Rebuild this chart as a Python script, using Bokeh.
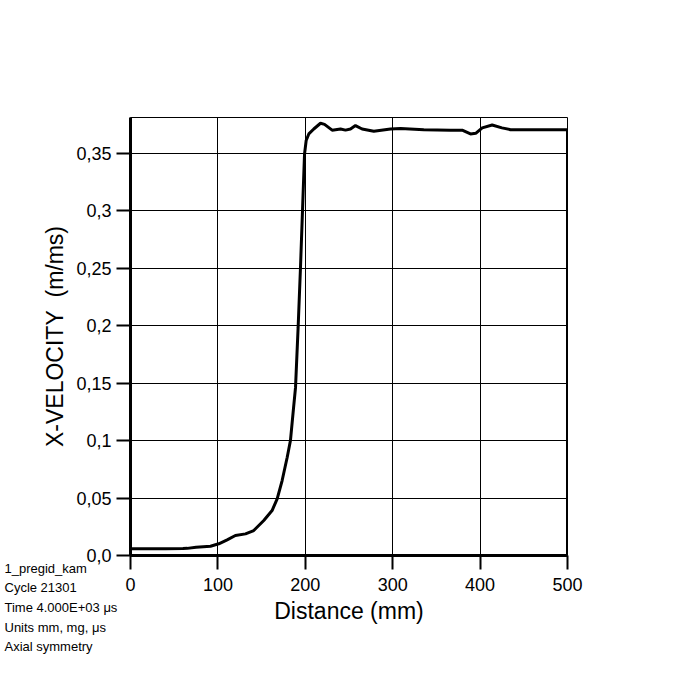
from bokeh.plotting import figure
from bokeh.models import FixedTicker, Range1d, Label
from bokeh.embed import file_html
from bokeh.resources import INLINE

# Data
distance_mm = [0, 20, 40, 60, 65, 75, 91.5, 101, 110.6, 120, 131.6, 141, 152.5, 162,
               167.8, 173.5, 179.3, 183, 186.5, 188.8, 191.8, 194.5, 196.8, 199.1,
               201, 204, 209.7, 217.4, 222, 230.7, 240.3, 246, 251.7, 257.4, 265,
               278.4, 297.5, 309, 335.6, 366, 379.5, 389, 395, 402.4, 413.8, 425,
               434.8, 500, 500]
x_velocity = [0.0058, 0.0058, 0.0058, 0.0060, 0.0062, 0.0072, 0.0081, 0.0102, 0.0136,
              0.0174, 0.0188, 0.0217, 0.0304, 0.0391, 0.0493, 0.0652, 0.0855, 0.100,
              0.128, 0.146, 0.1986, 0.2507, 0.300, 0.349, 0.361, 0.3667, 0.371, 0.376,
              0.375, 0.370, 0.371, 0.370, 0.371, 0.374, 0.371, 0.369, 0.371, 0.3715,
              0.3704, 0.370, 0.3700, 0.3667, 0.3672, 0.372, 0.3745, 0.372, 0.3704,
              0.3704, 0.0]

x_ticks = [0, 100, 200, 300, 400, 500]
y_ticks = [0.0, 0.05, 0.1, 0.15, 0.2, 0.25, 0.3, 0.35]
y_tick_labels = ["0,0", "0,05", "0,1", "0,15", "0,2", "0,25", "0,3", "0,35"]
info_lines = ["1_pregid_kam", "Cycle 21301", "Time 4.000E+03 \u03bcs",
              "Units mm, mg, \u03bcs", "Axial symmetry"]

FONT = "Liberation Sans"

p = figure(output_backend="svg", toolbar_location=None,
           frame_width=437, frame_height=438,
           min_border_left=130, min_border_top=117,
           min_border_right=116, min_border_bottom=103,
           x_range=Range1d(0, 500), y_range=Range1d(0, 0.381),
           background_fill_color="white", border_fill_color="white")

p.line(distance_mm, x_velocity, line_color="black", line_width=3)

p.outline_line_color = "black"
p.outline_line_width = 1
p.outline_line_alpha = 1

for ax in (p.xaxis[0], p.yaxis[0]):
    ax.axis_line_color = "black"
    ax.axis_line_width = 3
    ax.major_tick_out = 14
    ax.major_tick_in = 0
    ax.major_tick_line_width = 2
    ax.major_tick_line_color = "black"
    ax.minor_tick_out = 0
    ax.minor_tick_in = 0
    ax.major_label_text_font = FONT
    ax.major_label_text_font_size = "18px"
    ax.major_label_text_color = "black"
    ax.axis_label_text_font = FONT
    ax.axis_label_text_font_size = "23px"
    ax.axis_label_text_font_style = "normal"
    ax.axis_label_text_color = "black"

p.xaxis.ticker = FixedTicker(ticks=x_ticks)
p.yaxis.ticker = FixedTicker(ticks=y_ticks)
p.yaxis.major_label_overrides = {t: l for t, l in zip(y_ticks, y_tick_labels)}
p.xaxis.axis_label = "Distance (mm)"
p.yaxis.axis_label = "X-VELOCITY\u00a0 (m/ms)"
p.xaxis.major_label_standoff = 8
p.yaxis.major_label_standoff = 5
p.xaxis.axis_label_standoff = 4
p.yaxis.axis_label_standoff = 5

p.xgrid.grid_line_color = "black"
p.ygrid.grid_line_color = "black"
p.xgrid.grid_line_width = 1
p.ygrid.grid_line_width = 1
p.xgrid.grid_line_alpha = 1
p.ygrid.grid_line_alpha = 1

# Info block, placed in the (otherwise empty) right panel so that it is not
# clipped to the frame; positioned from the data origin with pixel offsets.
info = Label(x=0, y=0, x_units="data", y_units="data",
             x_offset=-126, y_offset=-52,
             text="\n".join(info_lines), text_font=FONT, text_font_size="13px",
             text_line_height=1.31, text_color="black",
             text_baseline="middle", text_align="left")
p.add_layout(info, "right")

open("out.html", "w").write(file_html(p, INLINE))
